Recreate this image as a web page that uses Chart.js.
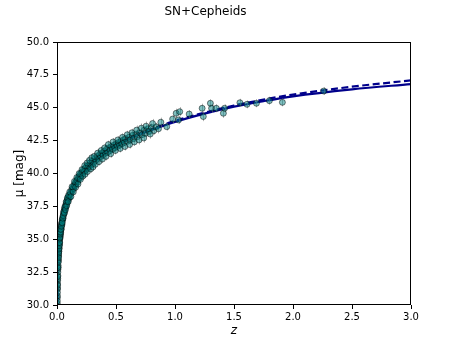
<!DOCTYPE html>
<html>
<head>
<meta charset="utf-8">
<script src="https://cdn.jsdelivr.net/npm/chart.js@4/dist/chart.umd.min.js"></script>
<style>
  html, body { margin: 0; padding: 0; background: #fff; }
  canvas { display: block; }
</style>
</head>
<body>
<canvas id="chart" width="457" height="343"></canvas>
<script>
// values
const snZ = [
  0.0025, 0.003, 0.0035, 0.004, 0.0045, 0.005, 0.0055, 0.006, 0.007, 0.0075,
  0.008, 0.009, 0.01, 0.011, 0.012, 0.013, 0.014, 0.015, 0.016, 0.017,
  0.018, 0.019, 0.02, 0.021, 0.022, 0.023, 0.024, 0.025, 0.026, 0.027,
  0.028, 0.03, 0.031, 0.033, 0.035, 0.036, 0.038, 0.04, 0.042, 0.045,
  0.047, 0.05, 0.052, 0.055, 0.058, 0.06, 0.063, 0.065, 0.068, 0.07,
  0.073, 0.076, 0.08, 0.083, 0.086, 0.09, 0.093, 0.096, 0.1,
  0.105, 0.11, 0.115, 0.12, 0.125, 0.13, 0.135, 0.14, 0.145, 0.15,
  0.155, 0.16, 0.165, 0.17, 0.175, 0.18, 0.185, 0.19, 0.195, 0.2,
  0.205, 0.21, 0.22, 0.225, 0.23, 0.24, 0.245, 0.25, 0.26, 0.265,
  0.27, 0.28, 0.29, 0.3, 0.31, 0.32, 0.33, 0.34, 0.35, 0.36,
  0.37, 0.38, 0.39, 0.4,
  0.41, 0.42, 0.43, 0.44, 0.45, 0.46, 0.47, 0.48, 0.49, 0.5,
  0.51, 0.52, 0.53, 0.54, 0.55, 0.56, 0.57, 0.58, 0.6, 0.61,
  0.62, 0.64, 0.65, 0.67, 0.68, 0.7, 0.72, 0.74, 0.75, 0.77,
  0.78, 0.8, 0.82, 0.84,
  0.93, 0.98, 1.01, 1.03, 1.04, 1.12, 1.23, 1.24, 1.30, 1.31,
  1.35, 1.41, 1.42, 1.55, 1.61, 1.69, 1.80, 1.91, 2.26,
  0.0028, 0.0038, 0.0048, 0.0065, 0.0085, 0.0105, 0.0125, 0.0145, 0.0165, 0.0185,
  0.0205, 0.0235, 0.0265, 0.029, 0.032, 0.037, 0.041, 0.044, 0.048, 0.053,
  0.057, 0.062, 0.066, 0.072, 0.078, 0.082, 0.088, 0.095, 0.098,
  0.108, 0.118, 0.128, 0.138, 0.148, 0.158, 0.168, 0.178, 0.188, 0.198,
  0.212, 0.218, 0.235, 0.238, 0.255, 0.258, 0.275, 0.285, 0.295, 0.305,
  0.315, 0.325, 0.345, 0.355, 0.375, 0.385, 0.405, 0.415, 0.435, 0.455,
  0.475, 0.495, 0.515, 0.535, 0.555, 0.575, 0.595, 0.615, 0.635, 0.655,
  0.675, 0.695, 0.715, 0.735, 0.755, 0.79, 0.81, 0.86, 0.88
];
const snMu = [
  30.1, 30.55, 30.7, 31.2, 31.3, 31.6, 31.85, 32.0, 32.25, 32.5,
  32.7, 32.85, 33.0, 33.35, 33.45, 33.7, 33.8, 34.05, 34.1, 34.3,
  34.35, 34.55, 34.6, 34.8, 34.75, 35.0, 35.05, 35.2, 35.15, 35.35,
  35.3, 35.6, 35.5, 35.8, 35.9, 35.75, 36.1, 36.2, 36.1, 36.5,
  36.45, 36.7, 36.6, 36.95, 36.9, 37.15, 37.05, 37.3, 37.4, 37.35,
  37.6, 37.5, 37.8, 37.7, 37.95, 38.05, 37.9, 38.2, 38.1,
  38.35, 38.2, 38.55, 38.5, 38.8, 38.7, 38.95, 38.85, 39.15, 39.05,
  39.3, 39.2, 39.45, 39.5, 39.35, 39.7, 39.6, 39.85, 39.7, 40.0,
  39.85, 40.1, 40.05, 40.3, 40.15, 40.4, 40.25, 40.55, 40.4, 40.6,
  40.5, 40.8, 40.65, 40.95, 40.8, 41.1, 41.0, 41.3, 41.15, 41.45,
  41.3, 41.55, 41.4, 41.7,
  41.55, 41.85, 41.6, 41.95, 41.75, 42.05, 41.85, 42.15, 41.95, 42.25,
  42.05, 42.35, 42.15, 42.45, 42.25, 42.55, 42.35, 42.65, 42.45, 42.75,
  42.55, 42.9, 42.65, 43.0, 42.8, 43.1, 42.95, 43.3, 43.05, 43.4,
  43.2, 43.5, 43.25, 43.55,
  43.56, 44.14, 44.58, 44.07, 44.7, 44.52, 44.96, 44.33, 45.34, 44.96,
  44.96, 44.58, 44.96, 45.38, 45.26, 45.34, 45.54, 45.41, 46.27,
  30.3, 30.95, 31.5, 32.15, 32.85, 33.25, 33.6, 33.95, 34.25, 34.5,
  34.75, 35.1, 35.4, 35.55, 35.75, 36.0, 36.3, 36.25, 36.6, 36.8,
  37.1, 37.0, 37.45, 37.25, 37.85, 37.55, 38.15, 37.85, 38.35,
  38.6, 38.25, 39.0, 38.6, 39.4, 38.95, 39.7, 39.2, 40.0, 39.55,
  40.3, 39.8, 40.6, 39.95, 40.8, 40.15, 41.0, 40.35, 41.2, 40.5,
  41.3, 40.7, 41.55, 40.9, 41.75, 41.1, 41.95, 41.3, 42.2, 41.5,
  42.4, 41.75, 42.55, 41.9, 42.75, 42.05, 42.95, 42.2, 43.1, 42.4,
  43.3, 42.55, 43.45, 42.7, 43.6, 43.0, 43.8, 43.4, 43.9
];
const snErr = [
  0.15, 0.2, 0.2, 0.18, 0.15, 0.2, 0.15, 0.2, 0.18, 0.2,
  0.15, 0.2, 0.18, 0.2, 0.15, 0.2, 0.18, 0.2, 0.15, 0.18,
  0.2, 0.15, 0.2, 0.18, 0.15, 0.2, 0.18, 0.2, 0.15, 0.18,
  0.2, 0.18, 0.15, 0.2, 0.18, 0.2, 0.15, 0.2, 0.18, 0.2,
  0.15, 0.2, 0.18, 0.2, 0.15, 0.2, 0.18, 0.2, 0.15, 0.2,
  0.18, 0.2, 0.15, 0.2, 0.18, 0.2, 0.15, 0.2, 0.18,
  0.2, 0.18, 0.2, 0.22, 0.2, 0.18, 0.22, 0.2, 0.2, 0.22,
  0.2, 0.25, 0.2, 0.22, 0.2, 0.25, 0.2, 0.22, 0.2, 0.25,
  0.22, 0.2, 0.25, 0.22, 0.2, 0.25, 0.22, 0.25, 0.22, 0.25,
  0.2, 0.25, 0.22, 0.25, 0.25, 0.22, 0.25, 0.25, 0.22, 0.25,
  0.25, 0.22, 0.25, 0.25,
  0.25, 0.22, 0.25, 0.25, 0.22, 0.25, 0.25, 0.22, 0.25, 0.25,
  0.22, 0.25, 0.25, 0.25, 0.22, 0.25, 0.25, 0.25, 0.22, 0.25,
  0.25, 0.25, 0.25, 0.25, 0.22, 0.25, 0.25, 0.25, 0.25, 0.3,
  0.25, 0.3, 0.3, 0.3,
  0.3, 0.3, 0.35, 0.3, 0.35, 0.3, 0.35, 0.35, 0.3, 0.35,
  0.3, 0.35, 0.3, 0.3, 0.3, 0.3, 0.3, 0.3, 0.3,
  0.2, 0.2, 0.2, 0.2, 0.2, 0.2, 0.2, 0.2, 0.2, 0.2,
  0.2, 0.2, 0.2, 0.2, 0.25, 0.25, 0.25, 0.25, 0.25, 0.25,
  0.25, 0.25, 0.25, 0.25, 0.25, 0.25, 0.25, 0.25, 0.25,
  0.3, 0.3, 0.3, 0.3, 0.3, 0.3, 0.3, 0.3, 0.3, 0.3,
  0.3, 0.3, 0.3, 0.3, 0.3, 0.3, 0.3, 0.3, 0.3, 0.3,
  0.3, 0.3, 0.3, 0.3, 0.3, 0.3, 0.3, 0.3, 0.3, 0.3,
  0.3, 0.3, 0.3, 0.3, 0.3, 0.3, 0.3, 0.3, 0.3, 0.3,
  0.35, 0.35, 0.35, 0.35, 0.35, 0.35, 0.35, 0.35, 0.35
];

const modelZ = [0.002, 0.003, 0.005, 0.007, 0.01, 0.015, 0.02, 0.03, 0.05, 0.07,
  0.1, 0.15, 0.2, 0.3, 0.4, 0.5, 0.6, 0.7, 0.8, 1.0, 1.25, 1.5, 1.75, 2.0, 2.5, 3.0];
const solidMu = [29.57, 30.45, 31.57, 32.3, 33.07, 33.96, 34.59, 35.48, 36.61, 37.36,
  38.16, 39.17, 39.86, 40.85, 41.56, 42.12, 42.58, 42.97, 43.31, 43.92, 44.55, 45.08, 45.5, 45.87, 46.4, 46.8];
const dashedMu = [29.57, 30.45, 31.57, 32.3, 33.07, 33.96, 34.59, 35.48, 36.61, 37.36,
  38.16, 39.17, 39.86, 40.85, 41.58, 42.15, 42.62, 43.02, 43.37, 44.0, 44.63, 45.17, 45.62, 46.0, 46.6, 47.08];

const xTicks = [0, 0.5, 1, 1.5, 2, 2.5, 3];
const yTicks = [30, 32.5, 35, 37.5, 40, 42.5, 45, 47.5, 50];

const pts = (xs, ys) => xs.map((x, i) => ({ x: x, y: ys[i] }));
const FONT = "'DejaVu Sans', sans-serif";

// error bars, drawn just before the scatter markers
const errorBars = {
  id: "errorBars",
  beforeDatasetDraw: (chart, args) => {
    if (args.index !== 0) return;
    const { ctx, chartArea, scales } = chart;
    ctx.save();
    ctx.beginPath();
    ctx.rect(chartArea.left, chartArea.top, chartArea.width, chartArea.height);
    ctx.clip();
    ctx.strokeStyle = "rgba(130, 130, 130, 0.6)";
    ctx.lineWidth = 1;
    ctx.beginPath();
    for (let i = 0; i < snZ.length; i++) {
      const px = Math.round(scales.x.getPixelForValue(snZ[i])) + 0.5;
      ctx.moveTo(px, scales.y.getPixelForValue(snMu[i] - snErr[i]));
      ctx.lineTo(px, scales.y.getPixelForValue(snMu[i] + snErr[i]));
    }
    ctx.stroke();
    ctx.restore();
  },
};

// matplotlib-like frame
const frame = {
  id: "frame",
  afterDraw: (chart) => {
    const { ctx, chartArea: a } = chart;
    ctx.save();
    ctx.strokeStyle = "#000";
    ctx.lineWidth = 1;
    ctx.strokeRect(Math.round(a.left) + 0.5, Math.round(a.top) + 0.5,
      Math.round(a.right - a.left) - 1, Math.round(a.bottom - a.top) - 1);
    ctx.restore();
  },
};

new Chart(document.getElementById("chart"), {
  type: "scatter",
  data: {
    datasets: [
      {
        label: "SN+Cepheids",
        data: pts(snZ, snMu),
        pointRadius: 3,
        pointStyle: "circle",
        backgroundColor: "rgba(0, 128, 128, 0.5)",
        borderColor: "rgba(0, 0, 0, 0.6)",
        borderWidth: 0.8,
        order: 0,
      },
      {
        label: "model",
        data: pts(modelZ, solidMu),
        showLine: true,
        pointRadius: 0,
        borderColor: "#00008b",
        borderWidth: 2.2,
        cubicInterpolationMode: "monotone",
        order: 2,
      },
      {
        label: "LCDM",
        data: pts(modelZ, dashedMu),
        showLine: true,
        pointRadius: 0,
        borderColor: "#00008b",
        borderWidth: 2.2,
        borderDash: [7, 3.5],
        cubicInterpolationMode: "monotone",
        order: 1,
      },
    ],
  },
  options: {
    responsive: false,
    animation: false,
    events: [],
    layout: { padding: { left: 0, right: 46, top: 0, bottom: 0 } },
    plugins: {
      legend: { display: false },
      tooltip: { enabled: false },
      title: {
        display: true,
        text: "SN+Cepheids",
        color: "#000",
        font: { family: FONT, size: 12, weight: "normal" },
        padding: { top: 5, bottom: 22.6 },
      },
    },
    scales: {
      x: {
        type: "linear",
        min: 0,
        max: 3,
        afterBuildTicks: (s) => { s.ticks = xTicks.map((v) => ({ value: v })); },
        afterFit: (s) => { s.height = 38; },
        ticks: {
          color: "#000",
          font: { family: FONT, size: 10 },
          padding: 2,
          maxRotation: 0,
          callback: (v) => v.toFixed(1),
        },
        grid: { drawOnChartArea: false, drawTicks: true, tickLength: 4, color: "#000" },
        border: { display: false },
        title: {
          display: true,
          text: "z",
          color: "#000",
          font: { family: FONT, size: 12, style: "italic" },
          padding: { top: 0, bottom: 5 },
        },
      },
      y: {
        type: "linear",
        min: 30,
        max: 50,
        afterBuildTicks: (s) => { s.ticks = yTicks.map((v) => ({ value: v })); },
        afterFit: (s) => { s.width = 57; },
        ticks: {
          color: "#000",
          font: { family: FONT, size: 10 },
          padding: 4,
          callback: (v) => v.toFixed(1),
        },
        grid: { drawOnChartArea: false, drawTicks: true, tickLength: 4, color: "#000" },
        border: { display: false },
        title: {
          display: true,
          text: "μ [mag]",
          color: "#000",
          font: { family: FONT, size: 12 },
          padding: { top: 13, bottom: 0 },
        },
      },
    },
  },
  plugins: [errorBars, frame],
});
</script>
</body>
</html>
